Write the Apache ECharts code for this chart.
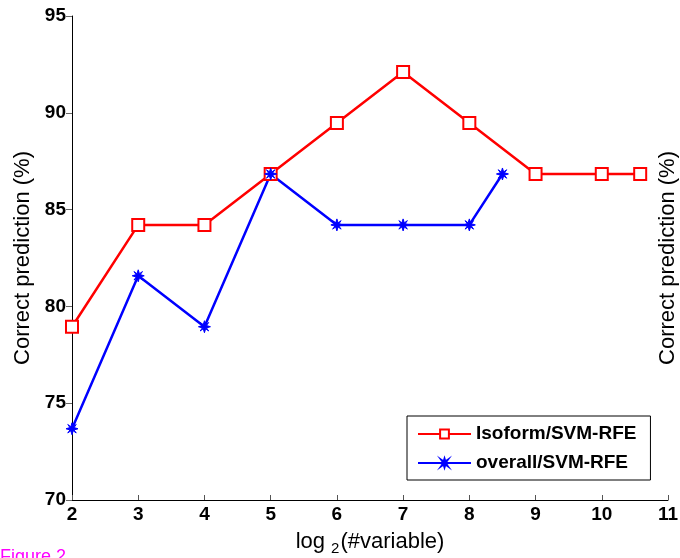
<!DOCTYPE html>
<html><head><meta charset="utf-8">
<script src="https://cdn.jsdelivr.net/npm/echarts@6/dist/echarts.min.js"></script>
<style>html,body{margin:0;padding:0;background:#fff}#c{width:680px;height:558px}</style>
</head><body><div id="c"></div>
<script>
const isoformX = [2, 3, 4, 5, 6, 7, 8, 9, 10, 10.58];
const isoformY = [78.95, 84.21, 84.21, 86.84, 89.47, 92.11, 89.47, 86.84, 86.84, 86.84];
const overallX = [2, 3, 4, 5, 6, 7, 8, 8.5];
const overallY = [73.68, 81.58, 78.95, 86.84, 84.21, 84.21, 84.21, 86.84];
const seriesNames = ['Isoform/SVM-RFE', 'overall/SVM-RFE'];
const yTitle = 'Correct prediction (%)';
const figureLabel = 'Figure 2';

const font = 'Liberation Sans, Arial, Helvetica, sans-serif';
const star = 'path://M50,0L60,33L85.36,14.64L67,40L100,50L67,60L85.36,85.36L60,67L50,100L40,67L14.64,85.36L33,60L0,50L33,40L14.64,14.64L40,33Z';

const chart = echarts.init(document.getElementById('c'), null, {renderer: 'canvas'});
chart.setOption({
  backgroundColor: '#fff',
  animation: false,
  grid: {left: 72, right: 12, top: 16, bottom: 58, outerBoundsMode: 'none', containLabel: false},
  xAxis: {
    type: 'value', min: 2, max: 11, interval: 1,
    splitLine: {show: false},
    axisLine: {lineStyle: {color: '#000', width: 1}},
    axisTick: {inside: true, length: 5, lineStyle: {color: '#555'}},
    axisLabel: {color: '#000', fontFamily: font, fontWeight: 'bold', fontSize: 19, margin: 5},
    name: '{a|log }{s|2}{a|(#variable)}',
    nameLocation: 'middle', nameGap: 30,
    nameTextStyle: {
      rich: {
        a: {fontFamily: font, fontSize: 22, color: '#000', lineHeight: 24},
        s: {fontFamily: font, fontSize: 15, color: '#000', padding: [12, 1, 0, 0], lineHeight: 24}
      }
    }
  },
  yAxis: [{
    type: 'value', min: 70, max: 95, interval: 5,
    splitLine: {show: false},
    axisLine: {show: true, lineStyle: {color: '#000', width: 1}},
    axisTick: {show: true, inside: false, length: 6, lineStyle: {color: '#666'}},
    axisLabel: {color: '#000', fontFamily: font, fontWeight: 'bold', fontSize: 19, margin: 6},
    name: yTitle, nameLocation: 'middle', nameGap: 38,
    nameTextStyle: {fontFamily: font, fontSize: 22, color: '#000'}
  }, {
    type: 'value', min: 70, max: 95, interval: 5, position: 'right',
    splitLine: {show: false},
    axisLine: {show: false}, axisTick: {show: false}, axisLabel: {show: false},
    name: yTitle, nameLocation: 'middle', nameGap: -11,
    nameTextStyle: {fontFamily: font, fontSize: 22, color: '#000'}
  }],
  legend: {
    orient: 'vertical', left: 407, top: 416,
    padding: [8, 14, 7, 10], itemGap: 9,
    itemWidth: 53, itemHeight: 11,
    borderColor: '#000', borderWidth: 1, backgroundColor: '#fff',
    textStyle: {fontFamily: font, fontWeight: 'bold', fontSize: 19, color: '#000', lineHeight: 20},
    data: seriesNames
  },
  graphic: [{
    type: 'text', left: 0, top: 548,
    style: {text: figureLabel, fontFamily: font, fontSize: 18, fill: '#ff00ff'}
  }],
  series: [{
    name: seriesNames[0], type: 'line',
    data: isoformX.map((x, i) => [x, isoformY[i]]),
    symbol: 'emptyRect', symbolSize: 12,
    lineStyle: {color: '#ff0000', width: 2.5},
    itemStyle: {color: '#ff0000', borderWidth: 2.2}
  }, {
    name: seriesNames[1], type: 'line',
    data: overallX.map((x, i) => [x, overallY[i]]),
    symbol: star, symbolSize: 12,
    lineStyle: {color: '#0000ff', width: 2.5},
    itemStyle: {color: '#0000ff', borderColor: '#0000ff', borderWidth: 1}
  }]
});
</script></body></html>
